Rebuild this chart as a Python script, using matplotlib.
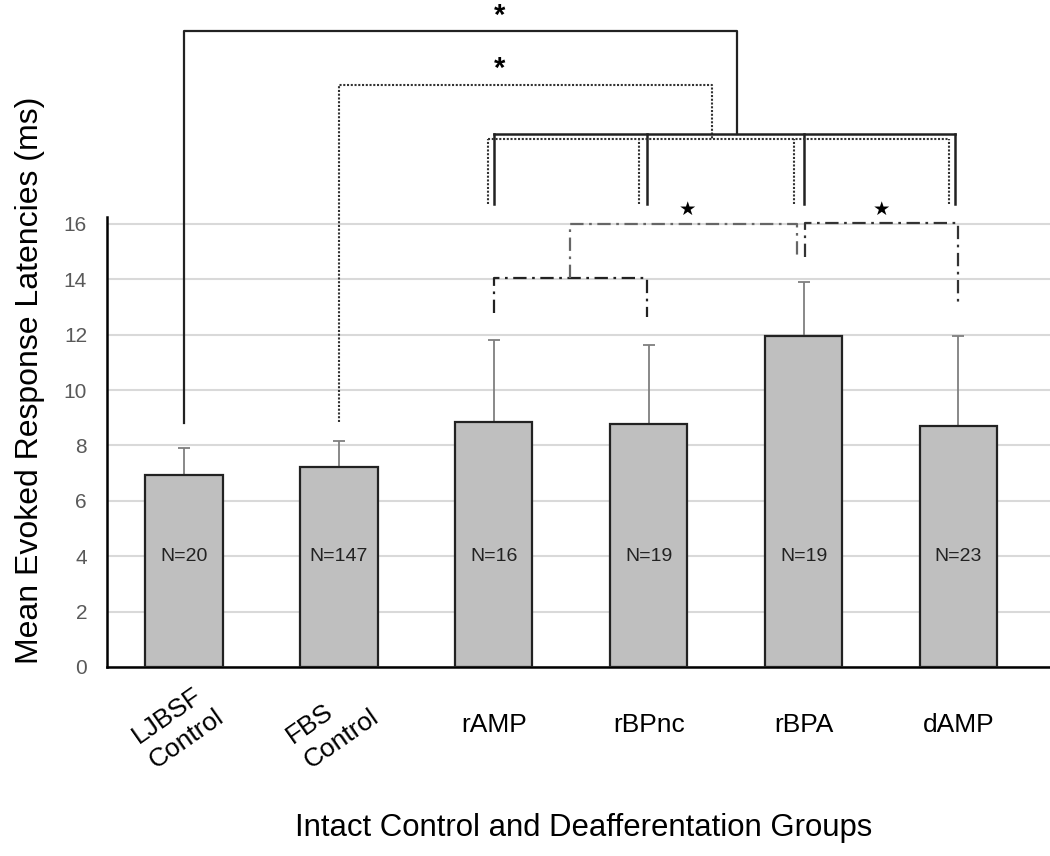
import numpy as np
import matplotlib
matplotlib.use("Agg")
import matplotlib.pyplot as plt

plt.rcParams['font.family'] = ['Liberation Sans', 'DejaVu Sans']

# -----------------------
# DATA
# -----------------------
groups = ["LJBSF\nControl", "FBS\nControl", "rAMP", "rBPnc", "rBPA", "dAMP"]
means = [6.92, 7.23, 8.84, 8.76, 11.97, 8.72]
errs = [0.98, 0.93, 2.98, 2.88, 1.93, 3.22]
n_labels = ["N=20", "N=147", "N=16", "N=19", "N=19", "N=23"]

# significance brackets (x in group index, y in ms)
top_solid_x = [0, 0, 3.57, 3.57]
top_solid_y = [8.8, 22.97, 22.97, 19.24]
top_dot_x = [1, 1, 3.41, 3.41]
top_dot_y = [8.85, 21.0, 21.0, 19.06]
solid_legs = [2.0, 2.99, 4.0, 4.98]
solid_level = 19.24
dot_legs = [1.96, 2.94, 3.94, 4.94]
dot_level = 19.06
legs_bottom = 16.72

dd_low_x = [2.0, 2.0, 2.99, 2.99]
dd_low_y = [12.8, 14.06, 14.06, 12.65]
dd_mid_x = [2.49, 2.49, 3.96, 3.96]
dd_mid_y = [14.06, 16.0, 16.0, 14.82]
dd_right_x = [4.01, 4.01, 4.995, 4.995]
dd_right_y = [14.82, 16.02, 16.02, 13.19]

# -----------------------
# PLOT
# -----------------------
fig = plt.figure(figsize=(10.5, 8.56), dpi=100)
ax = fig.add_axes([106.5 / 1050, 189 / 856, 1 - 106.5 / 1050, 450 / 856])

x = np.arange(len(groups))
ax.bar(x, means, width=0.5, color="#bfbfbf", edgecolor="#222222", linewidth=1.6, zorder=3)
ax.errorbar(x, means, yerr=[np.zeros(len(errs)), errs], fmt="none",
            ecolor="#7f7f7f", elinewidth=1.3, capsize=4, capthick=1.3, zorder=2)

for xi, lab in zip(x, n_labels):
    ax.text(xi, 4.0, lab, ha="center", va="center", fontsize=14, color="#222222", zorder=4)

ax.set_xlim(-0.5, (1050 - 184) / 154.9)
ax.set_ylim(0, 16.25)
ax.set_yticks(np.arange(0, 17, 2))
ax.tick_params(axis="y", length=0, labelsize=15, labelcolor="#595959", pad=14)
ax.set_xticks(x)
ax.set_xticklabels([])
ax.tick_params(axis="x", length=0)
ax.grid(axis="y", color="#d9d9d9", linewidth=1.5, zorder=0)
ax.set_axisbelow(True)
for s in ["top", "right"]:
    ax.spines[s].set_visible(False)
ax.spines["left"].set_linewidth(1.8)
ax.spines["bottom"].set_linewidth(1.8)

# x tick labels
for xi, lab in zip(x, groups):
    if "\n" in lab:
        ax.text(xi - 0.04, -2.15, lab, rotation=35, ha="center", va="center",
                fontsize=19, linespacing=1.3, multialignment="left")
    else:
        ax.text(xi, -2.1, lab, ha="center", va="center", fontsize=19)

fig.text(30 / 1050, 1 - 380 / 856, "Mean Evoked Response Latencies (ms)",
         rotation=90, ha="center", va="center", fontsize=23)
fig.text(584 / 1050, 1 - 828 / 856, "Intact Control and Deafferentation Groups",
         ha="center", va="center", fontsize=22.4)

# brackets
kw = dict(clip_on=False, zorder=5)
dotted = (0, (1, 0.8))
ax.plot(top_solid_x, top_solid_y, color="#222222", lw=1.6, **kw)
ax.plot(top_dot_x, top_dot_y, color="#333333", lw=1.5, linestyle=dotted, **kw)
ax.plot([solid_legs[0], solid_legs[-1]], [solid_level, solid_level], color="#222222", lw=1.8, **kw)
for lx in solid_legs:
    ax.plot([lx, lx], [legs_bottom, solid_level], color="#222222", lw=1.8, **kw)
ax.plot([dot_legs[0], dot_legs[-1]], [dot_level, dot_level], color="#333333", lw=1.5,
        linestyle=dotted, **kw)
for lx in dot_legs:
    ax.plot([lx, lx], [legs_bottom, dot_level], color="#333333", lw=1.5,
            linestyle=dotted, **kw)

dd = (0, (6, 2.5, 1.2, 2.5))
ax.plot(dd_low_x, dd_low_y, color="#222222", lw=1.6, linestyle=dd, **kw)
ax.plot(dd_mid_x, dd_mid_y, color="#666666", lw=1.6, linestyle=dd, **kw)
ax.plot(dd_right_x, dd_right_y, color="#333333", lw=1.6, linestyle=dd, **kw)

ax.text(2.04, 23.52, "*", ha="center", va="center", fontsize=21, fontweight="bold", clip_on=False)
ax.text(2.04, 21.58, "*", ha="center", va="center", fontsize=21, fontweight="bold", clip_on=False)
ax.text(3.25, 16.53, "★", ha="center", va="center", fontsize=14, family="DejaVu Sans", clip_on=False)
ax.text(4.50, 16.53, "★", ha="center", va="center", fontsize=14, family="DejaVu Sans", clip_on=False)

plt.savefig("out.png", dpi=100)
